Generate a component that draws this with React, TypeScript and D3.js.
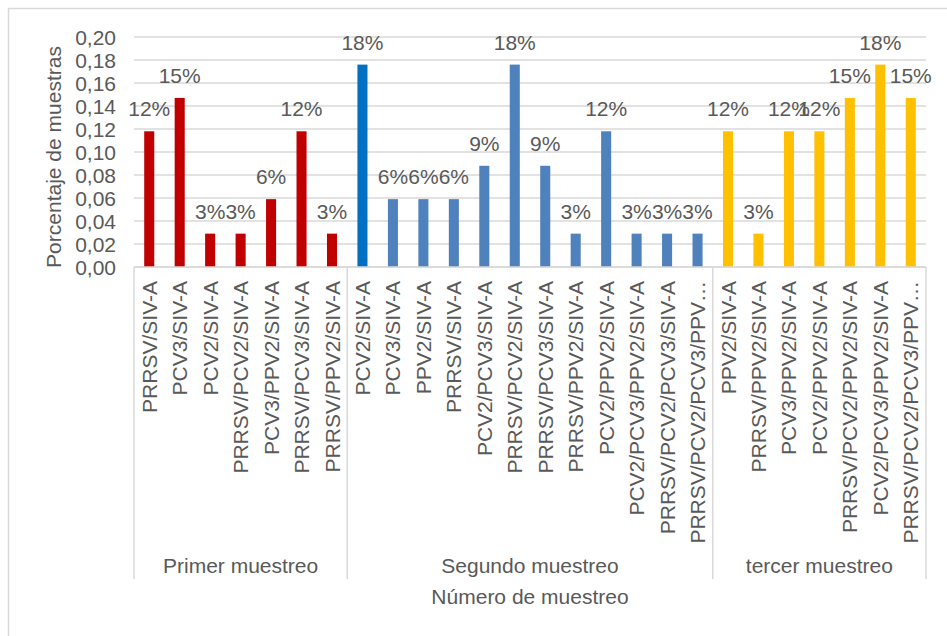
import * as d3 from "d3";

const groups = ["Primer muestreo", "Segundo muestreo", "tercer muestreo"];

const primerLabels = [
  "PRRSV/SIV-A",
  "PCV3/SIV-A",
  "PCV2/SIV-A",
  "PRRSV/PCV2/SIV-A",
  "PCV3/PPV2/SIV-A",
  "PRRSV/PCV3/SIV-A",
  "PRRSV/PPV2/SIV-A",
];
const primerValues = [0.118, 0.147, 0.029, 0.029, 0.059, 0.118, 0.029];

const segundoLabels = [
  "PCV2/SIV-A",
  "PCV3/SIV-A",
  "PPV2/SIV-A",
  "PRRSV/SIV-A",
  "PCV2/PCV3/SIV-A",
  "PRRSV/PCV2/SIV-A",
  "PRRSV/PCV3/SIV-A",
  "PRRSV/PPV2/SIV-A",
  "PCV2/PPV2/SIV-A",
  "PCV2/PCV3/PPV2/SIV-A",
  "PRRSV/PCV2/PCV3/SIV-A",
  "PRRSV/PCV2/PCV3/PPV…",
];
const segundoValues = [0.176, 0.059, 0.059, 0.059, 0.088, 0.176, 0.088, 0.029, 0.118, 0.029, 0.029, 0.029];

const tercerLabels = [
  "PPV2/SIV-A",
  "PRRSV/PPV2/SIV-A",
  "PCV3/PPV2/SIV-A",
  "PCV2/PPV2/SIV-A",
  "PRRSV/PCV2/PPV2/SIV-A",
  "PCV2/PCV3/PPV2/SIV-A",
  "PRRSV/PCV2/PCV3/PPV…",
];
const tercerValues = [0.118, 0.029, 0.118, 0.118, 0.147, 0.176, 0.147];

const yTicks = [0, 0.02, 0.04, 0.06, 0.08, 0.1, 0.12, 0.14, 0.16, 0.18, 0.2];

const groupLabels = [primerLabels, segundoLabels, tercerLabels];
const groupValues = [primerValues, segundoValues, tercerValues];
const groupColors = ["#C00000", "#4F81BD", "#FFC000"];

const W = 947;
const H = 636;
const left = 134;
const right = 926;
const top = 37;
const bottom = 267;
const font = "'Liberation Sans', Arial, sans-serif";
const textColor = "#595959";
const gridColor = "#D9D9D9";

type Row = { key: string; label: string; value: number; group: number; color: string };

const rows: Row[] = [];
groupLabels.forEach((labels, g) => {
  labels.forEach((label, i) => {
    let color = groupColors[g];
    if (g === 1 && i === 0) color = "#0070C0";
    rows.push({ key: `${g}-${i}`, label, value: groupValues[g][i], group: g, color });
  });
});

export default function App() {
  const x = d3
    .scaleBand<string>()
    .domain(rows.map((d) => d.key))
    .range([left, right])
    .paddingInner(0.67)
    .paddingOuter(0.335);

  const y = d3.scaleLinear().domain([0, 0.2]).range([bottom, top]);
  const fmt = (v: number) => d3.format(".2f")(v).replace(".", ",");
  const pct = d3.format(".0%");

  const step = x.step();
  // group boundaries
  const bounds: number[] = [left];
  let count = 0;
  groupLabels.forEach((labels) => {
    count += labels.length;
    bounds.push(left + count * step - x.paddingOuter() * step * 0 );
  });
  const groupStart = (g: number) => bounds[g];
  const groupEnd = (g: number) => bounds[g + 1];

  return (
    <div style={{ position: "fixed", left: 0, top: 0, width: W, height: H, background: "#fff" }}>
      <svg width={W} height={H} style={{ display: "block", fontFamily: font }}>
        <rect x={8.5} y={8.5} width={W + 20} height={H + 20} fill="#fff" stroke={gridColor} strokeWidth={1.5} />

        {/* grid */}
        {yTicks.map((t) => (
          <line key={t} x1={left} x2={right} y1={y(t)} y2={y(t)} stroke={gridColor} strokeWidth={1.5} />
        ))}

        {/* y tick labels */}
        {yTicks.map((t) => (
          <text key={t} x={116} y={y(t)} dy="0.36em" textAnchor="end" fontSize={21} fill={textColor}>
            {fmt(t)}
          </text>
        ))}

        {/* bars */}
        {rows.map((d) => (
          <rect
            key={d.key}
            x={x(d.key)!}
            width={x.bandwidth()}
            y={y(d.value)}
            height={bottom - y(d.value)}
            fill={d.color}
          />
        ))}

        {/* data labels */}
        {rows.map((d) => (
          <text
            key={d.key}
            x={x(d.key)! + x.bandwidth() / 2}
            y={y(d.value) - 15}
            textAnchor="middle"
            fontSize={21}
            fill={textColor}
          >
            {pct(d.value)}
          </text>
        ))}

        {/* category axis line and group separators */}
        <line x1={left} x2={right} y1={bottom} y2={bottom} stroke={gridColor} strokeWidth={1.5} />
        {bounds.map((b, i) => (
          <line key={i} x1={b} x2={b} y1={bottom} y2={579} stroke={gridColor} strokeWidth={1.5} />
        ))}

        {/* category labels */}
        {rows.map((d) => (
          <text
            key={d.key}
            transform={`translate(${x(d.key)! + x.bandwidth() / 2},${281}) rotate(-90)`}
            dy="0.36em"
            textAnchor="end"
            fontSize={21}
            fill={textColor}
          >
            {d.label}
          </text>
        ))}

        {/* group labels */}
        {groups.map((g, i) => (
          <text
            key={g}
            x={(groupStart(i) + groupEnd(i)) / 2}
            y={573}
            textAnchor="middle"
            fontSize={21}
            fill={textColor}
          >
            {g}
          </text>
        ))}

        {/* axis titles */}
        <text x={(left + right) / 2} y={604} textAnchor="middle" fontSize={21} fill={textColor}>
          Número de muestreo
        </text>
        <text
          transform={`translate(61,${(46 + 268) / 2}) rotate(-90)`}
          textAnchor="middle"
          fontSize={21}
          fill={textColor}
        >
          Porcentaje de muestras
        </text>
      </svg>
    </div>
  );
}
